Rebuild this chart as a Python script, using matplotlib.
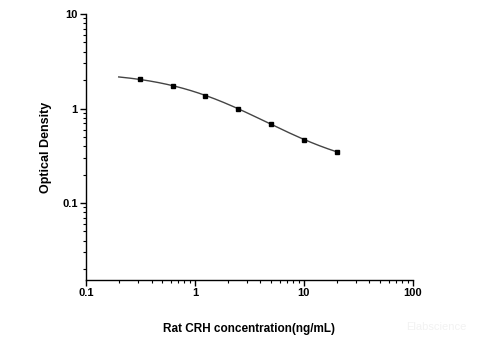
import numpy as np
import matplotlib
matplotlib.use("Agg")
import matplotlib.pyplot as plt
from matplotlib.ticker import LogLocator, FuncFormatter, NullFormatter

# standard concentrations (ng/mL) and measured OD
conc = [0.3125, 0.625, 1.25, 2.5, 5.0, 10.0, 20.0]
od = [2.03, 1.75, 1.37, 1.00, 0.68, 0.47, 0.35]

x_ticks = [0.1, 1, 10, 100]
y_ticks = [0.1, 1, 10]


def four_pl(x, p):
    a, b, c, d = p
    return d + (a - d) / (1.0 + (x / c) ** b)


def fit_four_pl(x, y):
    # small Levenberg-Marquardt, no scipy here
    x = np.asarray(x)
    y = np.asarray(y)
    p = np.array([2.3, 1.0, 3.0, 0.2])
    lam = 1e-2
    for _ in range(500):
        r = y - four_pl(x, p)
        J = np.zeros((len(x), 4))
        for k in range(4):
            dp = np.zeros(4)
            dp[k] = 1e-6 * max(abs(p[k]), 1.0)
            J[:, k] = (four_pl(x, p + dp) - four_pl(x, p)) / dp[k]
        A = J.T @ J
        g = J.T @ r
        step = np.linalg.solve(A + lam * np.diag(np.diag(A)), g)
        p_new = p + step
        if np.sum((y - four_pl(x, p_new)) ** 2) < np.sum(r ** 2):
            p = p_new
            lam *= 0.5
        else:
            lam *= 4.0
    return p


params = fit_four_pl(conc, od)
xs = np.logspace(np.log10(0.2), np.log10(conc[-1]), 200)

plt.rcParams['font.family'] = ['Liberation Sans', 'DejaVu Sans']
fig = plt.figure(figsize=(4.8, 3.6), dpi=100)
ax = fig.add_axes([0.179, 0.222, 0.681, 0.739])

ax.plot(xs, four_pl(xs, params), color='#444444', linewidth=1.0)
ax.plot(conc, od, 's', color='black', markersize=3.5)

ax.set_xscale('log')
ax.set_yscale('log')
ax.set_xlim(0.1, 100)
ax.set_ylim(0.0153, 10)

for s in ['top', 'right']:
    ax.spines[s].set_visible(False)
for s in ['left', 'bottom']:
    ax.spines[s].set_linewidth(1.0)

fmt = FuncFormatter(lambda v, pos: '%g' % v)
ax.set_xticks(x_ticks)
ax.set_yticks(y_ticks)
ax.xaxis.set_major_formatter(fmt)
ax.yaxis.set_major_formatter(fmt)
ax.xaxis.set_minor_locator(LogLocator(base=10, subs=np.arange(2, 10)))
ax.yaxis.set_minor_locator(LogLocator(base=10, subs=np.arange(2, 10)))
ax.xaxis.set_minor_formatter(NullFormatter())
ax.yaxis.set_minor_formatter(NullFormatter())
ax.tick_params(which='major', length=4, width=1.0, labelsize=8, pad=2)
ax.tick_params(which='minor', length=2.5, width=0.8)
for lab in ax.get_xticklabels() + ax.get_yticklabels():
    lab.set_fontweight('bold')

ax.set_xlabel('Rat CRH concentration(ng/mL)', fontsize=8.5, fontweight='bold', labelpad=18)
ax.set_ylabel('Optical Density', fontsize=9, fontweight='bold', labelpad=7)

fig.text(0.91, 0.092, 'Elabscience', fontsize=8, color='#f2f2f2', ha='center', va='center')

fig.savefig('out.png', dpi=100)
